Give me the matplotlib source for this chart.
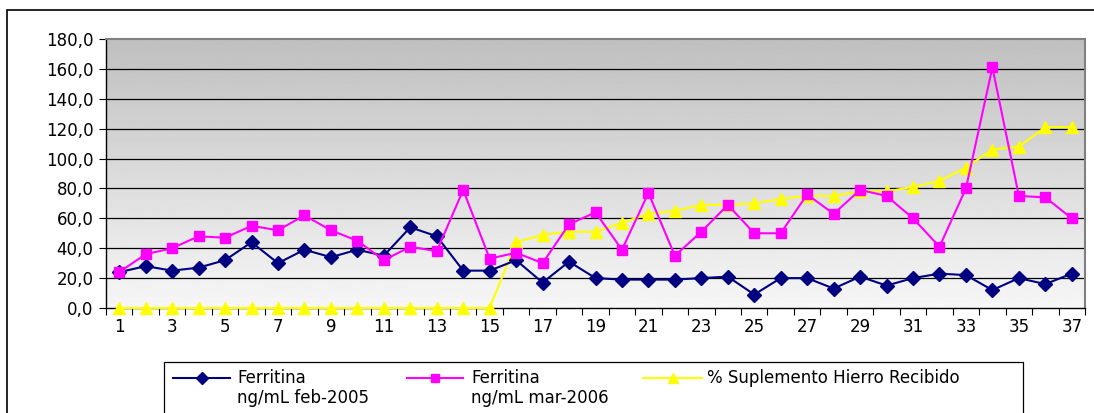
import matplotlib.pyplot as plt
import numpy as np
from matplotlib.patches import Rectangle
from matplotlib.lines import Line2D

plt.rcParams['font.family'] = ['DejaVu Sans']

muestras = list(range(1, 38))
ferritina_2005 = [24, 28, 25, 27, 32, 44, 30, 39, 34, 39, 35, 54, 48, 25, 25, 32, 17, 31, 20, 19,
                  19, 19, 20, 21, 9, 20, 20, 13, 21, 15, 20, 23, 22, 12, 20, 16, 23]
ferritina_2006 = [24, 36, 40, 48, 47, 55, 52, 62, 52, 45, 32, 41, 38, 79, 33, 37, 30, 56, 64, 39,
                  77, 35, 51, 69, 50, 50, 76, 63, 79, 75, 60, 41, 80, 161, 75, 74, 60]
suplemento = [0, 0, 0, 0, 0, 0, 0, 0, 0, 0, 0, 0, 0, 0, 0, 44, 49, 51, 51, 57,
              63, 65, 69, 69, 70, 73, 75, 75, 78, 78, 81, 85, 94, 106, 108, 121, 121]
etiquetas = ["Ferritina\nng/mL feb-2005", "Ferritina\nng/mL mar-2006", "% Suplemento Hierro Recibido"]

W, H = 1094, 413
FS = 12
fig = plt.figure(figsize=(W / 100, H / 100), dpi=100)
ax = fig.add_axes([106 / W, 1 - 308 / H, (1085 - 106) / W, (308 - 39) / H])


def fx(x):
    return x / W


def fy(y):
    return 1 - y / H


# grey gradient background
grad = np.linspace(0.965, 0.75, 256).reshape(-1, 1)
ax.imshow(grad, cmap='gray', vmin=0, vmax=1, aspect='auto',
          extent=[0.5, 37.5, 0, 180], origin='lower', zorder=0)

for y in range(20, 180, 20):
    ax.axhline(y, color='black', lw=0.9, zorder=1)

estilos = [dict(color='#000080', marker='D', markersize=7),
           dict(color='#ff00ff', marker='s', markersize=7.5),
           dict(color='#ffff00', marker='^', markersize=9)]

ax.plot(muestras, ferritina_2005, lw=1.5, zorder=4, clip_on=False, **estilos[0])
ax.plot(muestras, ferritina_2006, lw=1.5, zorder=4, clip_on=False, **estilos[1])
ax.plot(muestras, suplemento, lw=1.5, zorder=3, clip_on=False, **estilos[2])

ax.set_xlim(0.5, 37.5)
ax.set_ylim(0, 180)
ax.set_yticks(range(0, 181, 20))
ax.set_yticklabels([f"{v},0" for v in range(0, 181, 20)], fontsize=FS)
ax.set_xticks(np.arange(0.5, 38, 1))
ax.set_xticklabels([])
ax.set_xticks(muestras[::2], minor=True)
ax.set_xticklabels([str(m) for m in muestras[::2]], minor=True, fontsize=FS)
ax.tick_params(axis='x', which='major', length=5, width=0.8, direction='out')
ax.tick_params(axis='x', which='minor', length=0, pad=7)
ax.tick_params(axis='y', length=5, width=0.8, pad=4)

for s in ['top', 'right']:
    ax.spines[s].set_color('#808080')
    ax.spines[s].set_linewidth(1.5)
for s in ['left', 'bottom']:
    ax.spines[s].set_color('#000000')
    ax.spines[s].set_linewidth(1.0)
    ax.spines[s].set_zorder(2.5)

# outer chart frame
fig.patches.append(Rectangle((fx(7), -0.1), 1.2, fy(10) + 0.1, transform=fig.transFigure,
                             fill=False, edgecolor='black', lw=1.2))

# legend drawn by hand, handle aligned with first text line
fig.patches.append(Rectangle((fx(164), -0.1), fx(1023) - fx(164), fy(362) + 0.1,
                             transform=fig.transFigure, facecolor='white',
                             edgecolor='black', lw=0.9))
handles_x = [(173, 230), (407, 463), (643, 702)]
texto_x = [237, 471, 707]
for (x0, x1), tx, est, lab in zip(handles_x, texto_x, estilos, etiquetas):
    fig.lines.append(Line2D([fx(x0), fx(x1)], [fy(378), fy(378)], transform=fig.transFigure,
                            color=est['color'], lw=1.5))
    est_leg = dict(est, markersize=est['markersize'] * 0.85)
    fig.lines.append(Line2D([fx((x0 + x1) / 2)], [fy(378)], transform=fig.transFigure,
                            linestyle='none', **est_leg))
    fig.text(fx(tx), fy(369), lab, fontsize=FS, va='top', ha='left', linespacing=1.15)

fig.savefig('out.png', dpi=100)
